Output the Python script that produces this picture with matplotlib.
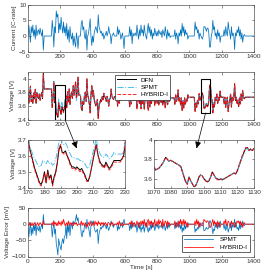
import numpy as np
import matplotlib
matplotlib.use("Agg")
import matplotlib.pyplot as plt
from matplotlib.patches import Rectangle, ConnectionPatch

# ---------------- data ----------------
time_s = list(range(0, 1401, 5))

current = [
    0, 3.5, 1, -2, 3, 1, 3.5, 0, 2, -1, 3.5, 0, 1.5, 2, 0.5, 2.5, 1, 0, 2, -4.5,
    0, 0, 0, 0, 0, 0, 0, 0, 0, 0, 5, 2, -3.5, 3, 1, 8, 6, 7, 1, 4,
    2, 6, 3, 1, 4.5, 1, 3, 0, 4, -1, 2, -2, 3, 0, -1, 1, -3, 0, -2, -3.5,
    1, -1, -4, 0, 0, 0, 4, 5, 2, 3, 0, -1, 2, -4.5, 0, 1, 3, 5.5, 0, -3,
    0, -2, 1, 2, 3, 2, 1, 6.8, 3, 2, 1, 1.5, 0, 1, -1, 0, 0.5, 1.5, 0, 1,
    3, 1, 0.5, -2.5, 0, 0.5, 1, 0, 0, 0, 0, 3, 0.5, 2, 1, -1, 0, 1, -1, -4,
    0, 0, 0, 0, 0, 0, 3, 0, 2, -2.5, 1, 0, 0.5, 1, 0, 3.5, 1, -1, 2, 0,
    3.5, 1, 2, 0, 3.5, 1, 0, -1, 2, 4, 1, 3, 0, 2, -1, 1, 0, 2.5, 1, 0,
    1.5, 0, 2, 1, 0.5, 1.5, -0.5, 2, 1, 0, 3, 1, -1, 2, 0, 1, -0.5, 0, 0, 0,
    0, 0, 2, -1, 1, 0, -2.5, 1, 0, 2, 0, 4, 1, 3, 0, 2, 0.5, 1, -1, 0,
    0, 0, 0, 0, 0, 0, 0, 4.5, 2, 3, 1, 2, -1, 1, 0.2, -0.4, -1, 0, 3, 3,
    2.5, 1.5, 2.5, 2.5, 1, -3.5, -3.5, 0, 1, 5, 2, 3, 0, 1, -1, 2, 0, 1, -2, 0,
    0, 0, 0, 2, 0, 3, 1, 0, 4.5, 2, 1, -1, 3, 0, 1, 0, -4.3, 1, 0, 2,
    1, 3, 0, 2, -1, 1, -2, 0, 0.5, 0, 0, 0, 0, 0, 0, 0, 0, 0, 0, 0,
    0,
]

v_dfn = [
    3.80, 3.64, 3.755, 3.89, 3.665, 3.755, 3.64, 3.80, 3.71, 3.845, 3.64, 3.80, 3.73, 3.71, 3.78, 3.69, 3.755, 3.80, 3.71, 4.08,
    3.85, 3.85, 3.85, 3.85, 3.85, 3.85, 3.85, 3.85, 3.85, 3.85, 3.58, 3.72, 3.96, 3.65, 3.70, 3.50, 3.48, 3.44, 3.66, 3.58,
    3.53, 3.48, 3.60, 3.55, 3.52, 3.57, 3.66, 3.76, 3.58, 3.805, 3.67, 3.85, 3.625, 3.76, 3.805, 3.715, 3.895, 3.76, 3.85, 3.95,
    3.715, 3.805, 4.02, 3.76, 3.76, 3.76, 3.58, 3.535, 3.67, 3.625, 3.76, 3.805, 3.67, 3.99, 3.76, 3.715, 3.625, 3.51, 3.76, 3.90,
    3.74, 3.83, 3.695, 3.65, 3.605, 3.65, 3.695, 3.43, 3.605, 3.65, 3.695, 3.67, 3.74, 3.695, 3.785, 3.74, 3.72, 3.67, 3.74, 3.695,
    3.605, 3.695, 3.72, 3.85, 3.74, 3.72, 3.695, 3.74, 3.74, 3.74, 3.74, 3.605, 3.72, 3.65, 3.695, 3.785, 3.74, 3.695, 3.785, 3.92,
    3.73, 3.73, 3.73, 3.73, 3.73, 3.73, 3.595, 3.73, 3.64, 3.84, 3.685, 3.73, 3.71, 3.685, 3.73, 3.57, 3.685, 3.775, 3.64, 3.73,
    3.57, 3.685, 3.64, 3.73, 3.57, 3.685, 3.73, 3.775, 3.64, 3.55, 3.685, 3.595, 3.73, 3.64, 3.775, 3.685, 3.73, 3.62, 3.685, 3.73,
    3.65, 3.72, 3.63, 3.675, 3.70, 3.65, 3.74, 3.63, 3.675, 3.72, 3.585, 3.675, 3.765, 3.63, 3.72, 3.675, 3.74, 3.72, 3.72, 3.72,
    3.72, 3.72, 3.63, 3.765, 3.675, 3.72, 3.83, 3.675, 3.72, 3.63, 3.72, 3.54, 3.675, 3.585, 3.72, 3.63, 3.70, 3.675, 3.765, 3.72,
    3.73, 3.73, 3.73, 3.73, 3.73, 3.73, 3.73, 3.53, 3.64, 3.595, 3.685, 3.64, 3.775, 3.685, 3.72, 3.75, 3.79, 3.74, 3.58, 3.57,
    3.60, 3.64, 3.60, 3.61, 3.68, 3.90, 3.91, 3.73, 3.685, 3.505, 3.64, 3.595, 3.73, 3.685, 3.775, 3.64, 3.73, 3.685, 3.82, 3.73,
    3.73, 3.73, 3.73, 3.64, 3.73, 3.595, 3.685, 3.73, 3.53, 3.64, 3.685, 3.775, 3.595, 3.73, 3.685, 3.73, 3.92, 3.685, 3.73, 3.64,
    3.685, 3.595, 3.73, 3.64, 3.775, 3.685, 3.82, 3.73, 3.71, 3.73, 3.73, 3.73, 3.73, 3.73, 3.73, 3.73, 3.73, 3.73, 3.73, 3.73,
    3.73,
]

err_spmt_mv = [
    -10, -40, -15, 5, -35, -10, -30, 0, -20, 5, -35, -5, -15, -20, -5, -25, -10, 0, -15, 30,
    0, 0, 0, 0, 0, 0, 0, 0, 0, 0, -40, -15, 10, -30, -15, -60, -75, -95, -45, -60,
    -70, -80, -55, -45, -60, -40, -35, 0, -45, 0, -25, 5, -35, -5, 0, -15, 10, 0, 5, 15,
    30, 10, 20, 0, 0, 0, -30, -40, -20, -25, -5, 0, -15, 15, -5, -10, -25, -40, -5, 10,
    0, 10, -10, -20, -25, -20, -15, -60, -30, -20, -10, -15, -5, -10, 5, 0, -5, -15, 0, -10,
    -20, -10, -5, 10, 0, -5, -10, 0, 0, 0, 0, -20, -5, -15, -10, 5, 0, -10, 5, 15,
    0, 0, 0, 0, 0, 0, -20, 0, -15, 10, -10, 0, -5, -10, 0, -25, -10, 5, -15, 0,
    -25, -10, -15, 0, -25, -10, 0, 5, -15, -25, -10, -20, 0, -15, 5, -10, 0, -20, -10, 0,
    -10, 0, -15, -5, -5, -10, 5, -15, -5, 0, -20, -10, 5, -15, 0, -10, 0, 0, 0, 0,
    0, 0, -15, 5, -10, 0, 10, -10, 0, -15, 0, -25, -10, -20, 0, -15, -5, -10, 5, 0,
    0, 0, 0, 0, 0, 0, 0, -25, -15, -20, -10, -15, 5, -10, 0, 0, 5, 0, -20, -20,
    -15, -10, -15, -15, -10, 10, 10, 0, -10, -30, -15, -20, 0, -10, 5, -15, 0, -10, 10, 0,
    0, 0, 0, -15, 0, -20, -10, 0, -25, -15, -10, 5, -20, 0, -10, 0, 15, -10, 0, -15,
    -10, -20, 0, -15, 5, -10, 10, 0, -5, 0, 0, 0, 0, 0, 0, 0, 0, 0, 0, 0,
    0,
]

err_hybrid_mv = [
    0, -5, 5, 0, -5, 5, -5, 0, 5, 0, -5, 0, 5, -5, 0, 5, 0, 0, -5, 10,
    0, 0, 0, 0, 0, 0, 0, 0, 0, 0, 5, -5, 10, 0, 5, -5, 5, -5, 10, 0,
    5, -5, 10, 0, 15, 5, -5, 0, 5, -5, 10, 0, -5, 5, 0, 5, -5, 0, 5, 0,
    5, -5, 0, 0, 0, 0, 10, -5, 5, 0, -5, 5, 0, -10, 0, 5, -5, 10, 0, -5,
    0, 5, -5, 10, 0, 5, -5, 10, 0, 5, -5, 5, 0, 5, -5, 0, 5, 0, -5, 5,
    5, 0, -5, 5, 0, 5, -5, 0, 0, 0, 0, 5, -5, 10, 0, -5, 0, 5, -5, 0,
    0, 0, 0, 0, 0, 0, 5, 0, 10, -10, 5, 0, 5, -5, 0, 10, 0, -10, 5, 0,
    10, -5, 10, 0, 15, -5, 5, -10, 10, 15, -5, 10, 0, 10, -10, 5, 0, 15, -5, 0,
    10, -5, 15, 0, 10, 5, -10, 15, -5, 0, 10, 5, -10, 10, 0, 5, -5, 0, 0, 0,
    0, 0, 10, -10, 5, 0, -10, 10, 0, 15, 0, 10, -5, 15, 0, 10, -5, 5, -10, 0,
    0, 0, 0, 0, 0, 0, 0, 10, -5, 15, 0, 10, -10, 5, 0, -5, -5, 0, 15, 10,
    10, 5, 10, 10, 0, -10, -10, 0, 5, 15, -5, 10, 0, 5, -10, 10, 0, 5, -10, 0,
    0, 0, 0, 10, 0, 15, -5, 0, 10, 5, -5, -10, 10, 0, 5, 0, -10, 5, 0, 10,
    5, 10, 0, 10, -5, 5, -10, 0, 5, 0, 0, 0, 0, 0, 0, 0, 0, 0, 0, 0,
    0,
]

# zoom window 1 (170-230 s)
zoom1_t = list(range(170, 231))
zoom1_dfn = [
    3.70, 3.64, 3.60, 3.56, 3.52, 3.49, 3.46, 3.43, 3.42, 3.45, 3.50, 3.43, 3.51, 3.46, 3.48, 3.42,
    3.47, 3.50, 3.56, 3.64, 3.66, 3.62, 3.62, 3.63, 3.60, 3.58, 3.55, 3.53, 3.53, 3.52, 3.53, 3.52,
    3.51, 3.52, 3.50, 3.48, 3.45, 3.44, 3.47, 3.52, 3.57, 3.62, 3.67, 3.61, 3.57, 3.55, 3.54, 3.53,
    3.56, 3.54, 3.52, 3.53, 3.55, 3.57, 3.57, 3.57, 3.57, 3.57, 3.58, 3.60, 3.68,
]
zoom1_spmt = [
    3.70, 3.66, 3.63, 3.60, 3.58, 3.56, 3.54, 3.53, 3.54, 3.57, 3.56, 3.55, 3.57, 3.55, 3.56, 3.54,
    3.55, 3.58, 3.63, 3.69, 3.71, 3.68, 3.67, 3.68, 3.66, 3.63, 3.61, 3.59, 3.59, 3.58, 3.58, 3.58,
    3.57, 3.57, 3.56, 3.55, 3.53, 3.52, 3.54, 3.58, 3.62, 3.66, 3.71, 3.65, 3.62, 3.60, 3.59, 3.59,
    3.61, 3.60, 3.58, 3.59, 3.60, 3.62, 3.61, 3.61, 3.61, 3.61, 3.61, 3.63, 3.69,
]
zoom1_hybrid = [
    3.70, 3.63, 3.59, 3.55, 3.51, 3.48, 3.45, 3.42, 3.41, 3.45, 3.49, 3.43, 3.50, 3.45, 3.47, 3.41,
    3.46, 3.49, 3.56, 3.65, 3.67, 3.62, 3.61, 3.62, 3.60, 3.57, 3.54, 3.52, 3.52, 3.51, 3.52, 3.51,
    3.50, 3.51, 3.49, 3.47, 3.44, 3.44, 3.47, 3.52, 3.58, 3.63, 3.67, 3.61, 3.56, 3.54, 3.53, 3.52,
    3.55, 3.53, 3.51, 3.52, 3.54, 3.56, 3.56, 3.56, 3.56, 3.56, 3.58, 3.61, 3.69,
]

# zoom window 2 (1070-1130 s)
zoom2_t = list(range(1070, 1131))
zoom2_dfn = [
    3.72, 3.69, 3.70, 3.71, 3.73, 3.75, 3.78, 3.82, 3.80, 3.78, 3.79, 3.78, 3.77, 3.76, 3.75, 3.74,
    3.73, 3.68, 3.62, 3.57, 3.55, 3.62, 3.58, 3.55, 3.52, 3.53, 3.57, 3.62, 3.64, 3.63, 3.60, 3.58,
    3.57, 3.58, 3.62, 3.67, 3.64, 3.61, 3.60, 3.59, 3.60, 3.59, 3.60, 3.61, 3.62, 3.63, 3.64, 3.65,
    3.66, 3.65, 3.68, 3.73, 3.78, 3.83, 3.87, 3.91, 3.92, 3.89, 3.90, 3.89, 3.91,
]
zoom2_spmt = [
    3.72, 3.70, 3.70, 3.71, 3.73, 3.75, 3.78, 3.81, 3.80, 3.78, 3.79, 3.78, 3.77, 3.76, 3.75, 3.74,
    3.73, 3.68, 3.63, 3.58, 3.56, 3.62, 3.58, 3.55, 3.53, 3.54, 3.57, 3.62, 3.64, 3.63, 3.60, 3.59,
    3.58, 3.59, 3.62, 3.66, 3.64, 3.61, 3.60, 3.60, 3.60, 3.60, 3.60, 3.61, 3.62, 3.63, 3.64, 3.65,
    3.66, 3.66, 3.68, 3.73, 3.78, 3.82, 3.86, 3.90, 3.91, 3.89, 3.90, 3.89, 3.90,
]
zoom2_hybrid = [
    3.72, 3.69, 3.70, 3.71, 3.73, 3.76, 3.79, 3.82, 3.80, 3.78, 3.79, 3.78, 3.77, 3.76, 3.75, 3.74,
    3.72, 3.67, 3.62, 3.57, 3.54, 3.62, 3.58, 3.55, 3.52, 3.53, 3.57, 3.62, 3.64, 3.63, 3.60, 3.58,
    3.57, 3.58, 3.62, 3.67, 3.64, 3.61, 3.59, 3.59, 3.60, 3.59, 3.60, 3.61, 3.62, 3.63, 3.64, 3.65,
    3.66, 3.65, 3.69, 3.74, 3.79, 3.84, 3.88, 3.92, 3.92, 3.89, 3.91, 3.89, 3.91,
]

v_spmt = [d - e / 1000.0 for d, e in zip(v_dfn, err_spmt_mv)]
v_hybrid = [d - e / 1000.0 for d, e in zip(v_dfn, err_hybrid_mv)]

# ---------------- styling ----------------
C_BLUE = "#0072BD"
C_LBLUE = "#4DBEEE"
C_RED = "#FF0000"
AX_COL = "#333333"
FS = 4.6

plt.rcParams.update({
    "font.family": ["Liberation Sans", "DejaVu Sans"],
    "font.size": FS,
    "axes.edgecolor": "#555555",
    "axes.linewidth": 0.5,
    "xtick.direction": "in",
    "ytick.direction": "in",
    "xtick.major.size": 1.8,
    "ytick.major.size": 1.8,
    "xtick.major.width": 0.4,
    "ytick.major.width": 0.4,
    "xtick.color": AX_COL,
    "ytick.color": AX_COL,
    "xtick.labelsize": FS,
    "ytick.labelsize": FS,
    "xtick.major.pad": 1.5,
    "ytick.major.pad": 1.2,
    "axes.labelsize": FS,
    "axes.labelcolor": AX_COL,
    "xtick.top": True,
    "ytick.right": True,
})

W, H = 272, 273
fig = plt.figure(figsize=(W / 100, H / 100), dpi=100)


def axbox(x0, y0, x1, y1):
    return fig.add_axes([x0 / W, 1 - y1 / H, (x1 - x0) / W, (y1 - y0) / H])


ax1 = axbox(28, 4.7, 254, 51.7)
ax2 = axbox(28, 71.7, 254, 120)
ax3 = axbox(28.3, 139.7, 125.3, 187.7)
ax4 = axbox(154, 139.7, 254, 187.7)
ax5 = axbox(28, 208, 254, 256.5)

# panel 1: current
ax1.plot(time_s, current, color=C_BLUE, lw=0.55)
ax1.set_xlim(0, 1400)
ax1.set_ylim(-5, 10)
ax1.set_yticks([-5, 0, 5, 10])
ax1.set_xticks(range(0, 1401, 200))
ax1.set_ylabel("Current [C-rate]", labelpad=1.5)

# panel 2: voltage
ax2.plot(time_s, v_dfn, color="k", lw=0.7, label="DFN")
ax2.plot(time_s, v_spmt, color=C_LBLUE, lw=0.7, ls="-.", label="SPMT")
ax2.plot(time_s, v_hybrid, color=C_RED, lw=0.7, ls="--", alpha=0.85, label="HYBRID-I")
ax2.set_xlim(0, 1400)
ax2.set_ylim(3.4, 4.1)
ax2.set_yticks([3.4, 3.6, 3.8, 4.0])
ax2.set_yticklabels(["3.4", "3.6", "3.8", "4"])
ax2.set_xticks(range(0, 1401, 200))
ax2.set_ylabel("Voltage [V]", labelpad=1.5)
leg = ax2.legend(loc="upper left", bbox_to_anchor=(115 / W, 1 - 75 / H), bbox_transform=fig.transFigure,
                 fontsize=FS, frameon=True, fancybox=False, edgecolor="#262626", framealpha=1,
                 handlelength=3.0, handletextpad=0.6, borderpad=0.35, labelspacing=0.3, borderaxespad=0)
leg.get_frame().set_linewidth(0.5)
ax2.add_patch(Rectangle((170, 3.4), 60, 0.5, fill=False, ec="k", lw=0.8, zorder=5))
ax2.add_patch(Rectangle((1070, 3.5), 60, 0.5, fill=False, ec="k", lw=0.8, zorder=5))

# panel 3: zooms
ax3.plot(zoom1_t, zoom1_dfn, color="k", lw=0.7)
ax3.plot(zoom1_t, zoom1_spmt, color=C_LBLUE, lw=0.7, ls="-.")
ax3.plot(zoom1_t, zoom1_hybrid, color=C_RED, lw=0.7, ls="--", alpha=0.85)
ax3.set_xlim(170, 230)
ax3.set_ylim(3.4, 3.7)
ax3.set_xticks(range(170, 231, 10))
ax3.set_yticks([3.4, 3.5, 3.6, 3.7])
ax3.set_ylabel("Voltage [V]", labelpad=1.5)

ax4.plot(zoom2_t, zoom2_dfn, color="k", lw=0.7)
ax4.plot(zoom2_t, zoom2_spmt, color=C_LBLUE, lw=0.7, ls="-.")
ax4.plot(zoom2_t, zoom2_hybrid, color=C_RED, lw=0.7, ls="--", alpha=0.85)
ax4.set_xlim(1070, 1130)
ax4.set_ylim(3.51, 4.0)
ax4.set_xticks(range(1070, 1131, 10))
ax4.set_yticks([3.6, 3.8, 4.0])
ax4.set_yticklabels(["3.6", "3.8", "4"])

# arrows
for (xa, ya, axa, xb, yb, axb) in [(230, 3.4, ax2, 200, 3.645, ax3), (1100, 3.5, ax2, 1095.5, 3.91, ax4)]:
    cp = ConnectionPatch(xyA=(xa, ya), coordsA=axa.transData, xyB=(xb, yb), coordsB=axb.transData,
                         arrowstyle="-|>,head_length=0.5,head_width=0.22", color="k", lw=0.5,
                         mutation_scale=8)
    fig.add_artist(cp)

# panel 4: error
ax5.plot(time_s, err_spmt_mv, color=C_BLUE, lw=0.55, label="SPMT")
ax5.plot(time_s, err_hybrid_mv, color=C_RED, lw=0.55, label="HYBRID-I")
ax5.set_xlim(0, 1400)
ax5.set_ylim(-100, 50)
ax5.set_yticks([-100, -50, 0, 50])
ax5.set_xticks(range(0, 1401, 200))
ax5.set_ylabel("Voltage Error [mV]", labelpad=1.0)
ax5.set_xlabel("Time [s]", labelpad=1)
leg2 = ax5.legend(loc="lower right", fontsize=FS, frameon=True, fancybox=False, edgecolor="#262626",
                  framealpha=1, handlelength=4.5, handletextpad=1.0, borderpad=0.35, labelspacing=0.3,
                  borderaxespad=0.7)
leg2.get_frame().set_linewidth(0.5)

fig.savefig("out.png", dpi=100)
